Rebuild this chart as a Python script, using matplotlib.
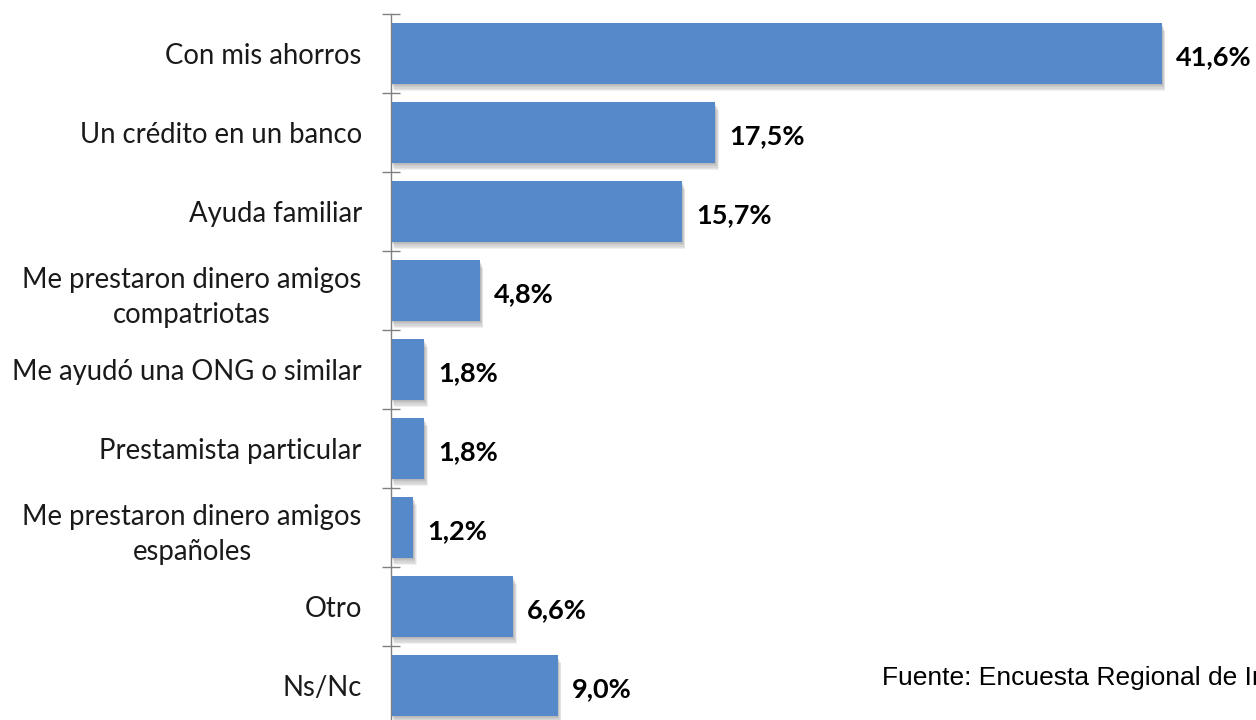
import matplotlib.pyplot as plt
import matplotlib.patheffects as pe

categories = [
    "Con mis ahorros",
    "Un crédito en un banco",
    "Ayuda familiar",
    "Me prestaron dinero amigos\ncompatriotas",
    "Me ayudó una ONG o similar",
    "Prestamista particular",
    "Me prestaron dinero amigos\nespañoles",
    "Otro",
    "Ns/Nc",
]
values = [41.6, 17.5, 15.7, 4.8, 1.8, 1.8, 1.2, 6.6, 9.0]
value_labels = ["41,6%", "17,5%", "15,7%", "4,8%", "1,8%", "1,8%", "1,2%", "6,6%", "9,0%"]
source = "Fuente: Encuesta Regional de Inmigración"

W, H = 1256, 720
fig = plt.figure(figsize=(W / 100, H / 100), dpi=100)
ax = fig.add_axes([391 / W, -5 / H, 834 / W, 711 / H])

ypos = list(range(len(categories)))

# soft shadow under each bar, built from a few stacked offset copies
shadow = [pe.SimplePatchShadow(offset=(0.4 * k, -0.9 * k), shadow_rgbFace="#707070",
                               alpha=0.1) for k in range(1, 7)]
ax.barh(ypos, values, height=0.76, color="#5589CA", zorder=2,
        path_effects=shadow + [pe.Normal()])

for y, v, lab in zip(ypos, values, value_labels):
    ax.text(v + 0.75, y + 0.04, lab, va="center", ha="left", fontsize=19.5,
            fontweight="bold", family="Lato", color="black")

ax.set_xlim(0, 45)
ax.set_ylim(len(categories) - 0.5, -0.5)

ax.set_yticks(ypos)
ax.set_yticklabels(categories, family="Lato", fontsize=19.8, color="#1a1a1a",
                   linespacing=1.45)
for t in ax.get_yticklabels():
    t.set_multialignment("center")
ax.tick_params(axis="y", which="major", length=0, pad=21)
ax.set_yticks([i - 0.5 for i in range(len(categories) + 1)], minor=True)
ax.tick_params(axis="y", which="minor", direction="inout", length=13.5,
               width=1, color="#808080")

ax.set_xticks([])
for s in ["top", "right", "bottom"]:
    ax.spines[s].set_visible(False)
ax.spines["left"].set_color("#808080")
ax.spines["left"].set_linewidth(1.0)

fig.text(882 / W, (H - 685) / H, source, family="Liberation Sans", fontsize=19,
         color="black", va="baseline", ha="left")

fig.savefig("out.png", dpi=100)
